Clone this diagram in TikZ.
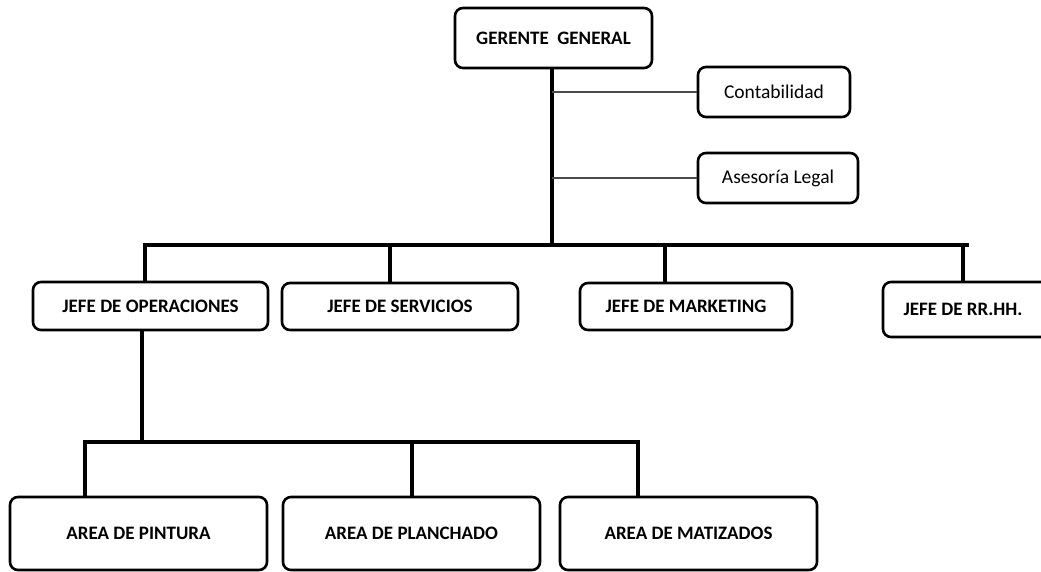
\documentclass[tikz,border=0pt]{standalone}
\usepackage{fontspec}
\setmainfont{Carlito}
\begin{document}
\begin{tikzpicture}[x=1pt,y=-1pt,
  unitbox/.style={draw=black,line width=2.6pt,rounded corners=8pt,fill=white,
    inner sep=0pt,font=\bfseries\fontsize{19}{22}\selectfont},
  staffbox/.style={unitbox,font=\fontsize{19.5}{22}\selectfont},
  trunk/.style={line width=4.8pt,line cap=rect},
  staffline/.style={line width=1.8pt,draw=black!70}]
\useasboundingbox (0,0) rectangle (1041,572);
\clip (0,0) rectangle (1041,572);

% top management and staff units
\node[unitbox,minimum width=197pt,minimum height=60pt] (gg) at (553.5,38) {GERENTE\ \ GENERAL};
\node[staffbox,minimum width=152pt,minimum height=50pt] (cont) at (774,92) {Contabilidad};
\node[staffbox,minimum width=160pt,minimum height=50pt] (ases) at (778,178) {Asesoría Legal};

% department heads
\node[unitbox,minimum width=235pt,minimum height=48pt] (ops) at (150.5,306) {JEFE DE OPERACIONES};
\node[unitbox,minimum width=236pt,minimum height=47pt] (serv) at (400,306.5) {JEFE DE SERVICIOS};
\node[unitbox,minimum width=212pt,minimum height=47pt] (mkt) at (686,306.5) {JEFE DE MARKETING};
\node[unitbox,minimum width=170pt,minimum height=55pt] (rrhh) at (968,309.5) {\hspace*{-10pt}JEFE DE RR.HH.};

% operating areas
\node[unitbox,minimum width=257pt,minimum height=73pt] (pint) at (138.5,533.5) {AREA DE PINTURA};
\node[unitbox,minimum width=257pt,minimum height=73pt] (plan) at (411.5,533.5) {AREA DE PLANCHADO};
\node[unitbox,minimum width=257pt,minimum height=73pt] (mat) at (688.5,533.5) {AREA DE MATIZADOS};

% junction points of the first level
\coordinate (hub) at (552,245);
\coordinate (d-ops) at (145,245);
\coordinate (d-serv) at (390,245);
\coordinate (d-mkt) at (665,245);
\coordinate (d-rrhh) at (963,245);
\coordinate (bar-east) at (967,245);

% main trunk and first level bar
\draw[trunk] (gg.south -| hub) -- (hub);
\draw[trunk] (d-ops) -- (bar-east);
\draw[trunk] (d-ops) -- (d-ops |- ops.north);
\draw[trunk] (d-serv) -- (d-serv |- serv.north);
\draw[trunk] (d-mkt) -- (d-mkt |- mkt.north);
\draw[trunk] (d-rrhh) -- (d-rrhh |- rrhh.north);

% staff links
\draw[staffline] (hub |- cont.west) -- (cont.west);
\draw[staffline] (hub |- ases.west) -- (ases.west);

% second level under operations
\coordinate (sub) at (142,442);
\coordinate (d-pint) at (85,442);
\coordinate (d-plan) at (412,442);
\coordinate (d-mat) at (638,442);
\draw[trunk] (sub |- ops.south) -- (sub);
\draw[trunk] (d-pint) -- (d-mat);
\draw[trunk] (d-pint) -- (d-pint |- pint.north);
\draw[trunk] (d-plan) -- (d-plan |- plan.north);
\draw[trunk] (d-mat) -- (d-mat |- mat.north);
\end{tikzpicture}
\end{document}
